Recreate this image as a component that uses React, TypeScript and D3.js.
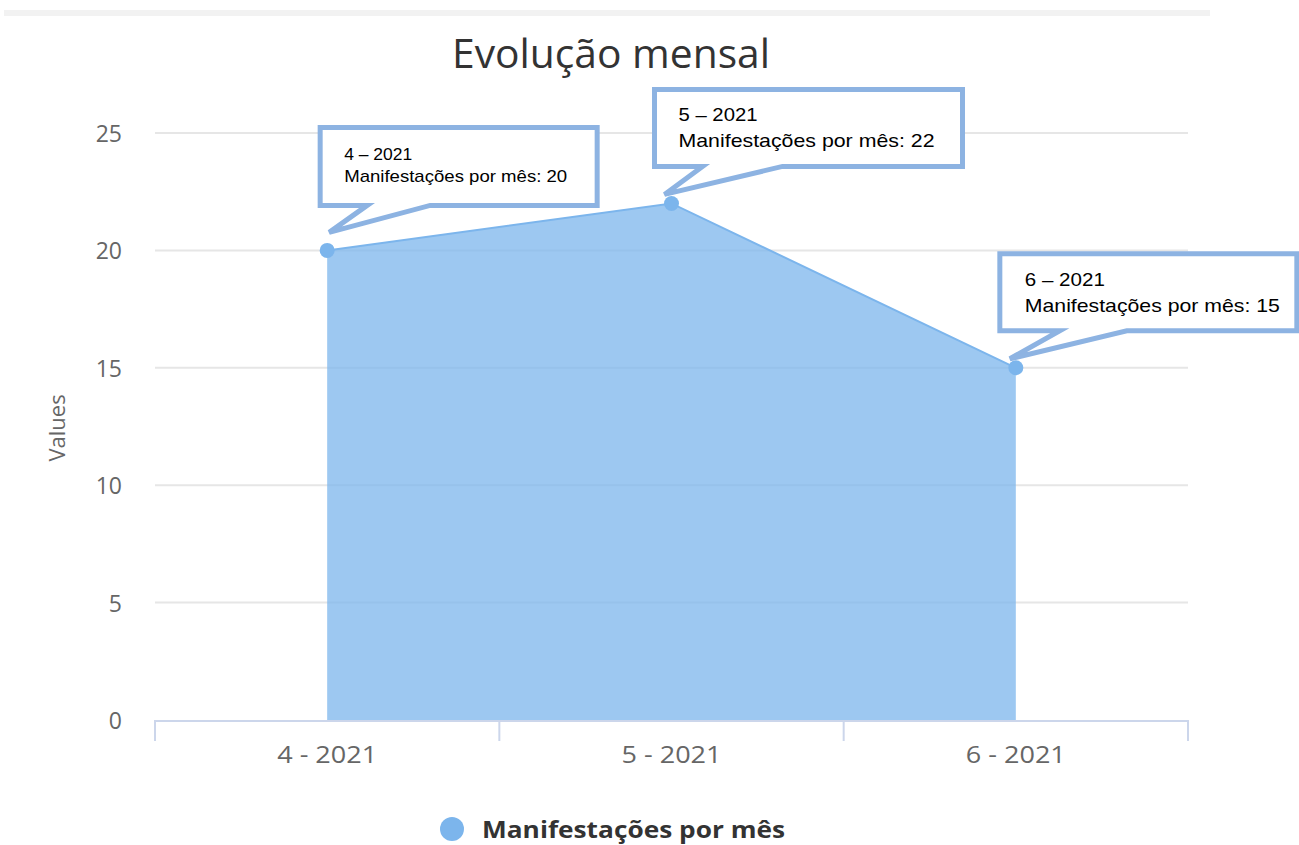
import React, { useEffect } from "react";
import * as d3 from "d3";

const categories = ["4 - 2021", "5 - 2021", "6 - 2021"];
const values = [20, 22, 15];
const yTicks = [0, 5, 10, 15, 20, 25];
const seriesName = "Manifestações por mês";
const chartTitle = "Evolução mensal";
const yTitle = "Values";

// callout placement relative to each point (box offsets, tail, size, font, text widths)
const callouts = [
  { dx: -7, dy: -123, w: 277, h: 78, tipDx: 2, tipDy: -18, baseL: 47, baseR: 110, font: 17, tx: 24, l1: 33, l2: 55, w1: 68, w2: 223 },
  { dx: -17, dy: -114, w: 308, h: 77, tipDx: -7, tipDy: -9, baseL: 48, baseR: 128, font: 19, tx: 24, l1: 32, l2: 58, w1: 79, w2: 256 },
  { dx: -16, dy: -114, w: 297, h: 77, tipDx: -6, tipDy: -9, baseL: 60, baseR: 127, font: 19, tx: 25, l1: 32, l2: 58, w1: 80, w2: 255 },
];

export default function App() {
  useEffect(() => {
    document.body.style.margin = "0";
  }, []);

  const width = 1299;
  const height = 845;
  const left = 155;
  const right = 1188;

  const x = d3.scaleBand().domain(categories).range([left, right]).padding(0);
  const y = d3.scaleLinear().domain([0, 25]).range([720, 133]);
  const cx = (c: string) => (x(c) as number) + x.bandwidth() / 2;

  const pts = categories.map((c, i) => ({ c, v: values[i], px: cx(c), py: y(values[i]) }));

  const area = d3
    .area<{ px: number; py: number }>()
    .x((d) => d.px)
    .y0(y(0))
    .y1((d) => d.py);
  const line = d3
    .line<{ px: number; py: number }>()
    .x((d) => d.px)
    .y((d) => d.py);

  const tickXs = [...categories.map((c) => x(c) as number), right];
  const labelFont = "'Open Sans', sans-serif";

  return (
    <svg width={width} height={height} style={{ display: "block" }}>
      <rect x={4} y={10} width={1206} height={6} fill="#f2f2f2" />
      <text
        x={611}
        y={68}
        textAnchor="middle"
        fontFamily={labelFont}
        fontSize={40}
        fill="#333333"
        textLength={318}
        lengthAdjust="spacingAndGlyphs"
      >
        {chartTitle}
      </text>

      {yTicks.map((t) => (
        <g key={t}>
          {t > 0 && <line x1={left} x2={right} y1={y(t)} y2={y(t)} stroke="#e6e6e6" strokeWidth={2} />}
          <text x={122} y={y(t) + 9} textAnchor="end" fontFamily={labelFont} fontSize={23} fill="#666666">
            {t}
          </text>
        </g>
      ))}

      <text
        transform={`translate(65, 428) rotate(-90)`}
        textAnchor="middle"
        fontFamily={labelFont}
        fontSize={22}
        fill="#666666"
      >
        {yTitle}
      </text>

      <path d={area(pts) || ""} fill="#7cb5ec" fillOpacity={0.75} />
      <path d={line(pts) || ""} fill="none" stroke="#7cb5ec" strokeWidth={2} />

      <line x1={left} x2={right} y1={y(0) + 1} y2={y(0) + 1} stroke="#ccd6eb" strokeWidth={2} />
      {tickXs.map((tx, i) => (
        <line key={i} x1={tx} x2={tx} y1={y(0)} y2={y(0) + 21} stroke="#ccd6eb" strokeWidth={2} />
      ))}
      {categories.map((c) => (
        <text
          key={c}
          x={cx(c)}
          y={763}
          textAnchor="middle"
          fontFamily={labelFont}
          fontSize={24}
          fill="#666666"
          textLength={100}
          lengthAdjust="spacingAndGlyphs"
        >
          {c}
        </text>
      ))}

      {pts.map((p) => (
        <circle key={p.c} cx={p.px} cy={p.py} r={7.5} fill="#7cb5ec" />
      ))}

      {pts.map((p, i) => {
        const o = callouts[i];
        const bx = p.px + o.dx;
        const by = p.py + o.dy;
        const bb = by + o.h;
        const d = `M${bx},${by} H${bx + o.w} V${bb} H${bx + o.baseR} L${p.px + o.tipDx},${p.py + o.tipDy} L${bx + o.baseL},${bb} H${bx} Z`;
        return (
          <g key={p.c}>
            <path d={d} fill="#ffffff" stroke="#8db3e2" strokeWidth={5} strokeLinejoin="miter" />
            <text fontFamily="'Liberation Sans', Arial, sans-serif" fontSize={o.font} fill="#000000">
              <tspan x={bx + o.tx} y={by + o.l1} textLength={o.w1} lengthAdjust="spacingAndGlyphs">
                {p.c.replace(" - ", " – ")}
              </tspan>
              <tspan x={bx + o.tx} y={by + o.l2} textLength={o.w2} lengthAdjust="spacingAndGlyphs">
                {`${seriesName}: ${p.v}`}
              </tspan>
            </text>
          </g>
        );
      })}

      <circle cx={452} cy={829} r={12} fill="#7cb5ec" />
      <text
        x={482}
        y={838}
        fontFamily={labelFont}
        fontWeight="bold"
        fontSize={24}
        fill="#333333"
        textLength={303}
        lengthAdjust="spacingAndGlyphs"
      >
        {seriesName}
      </text>
    </svg>
  );
}
